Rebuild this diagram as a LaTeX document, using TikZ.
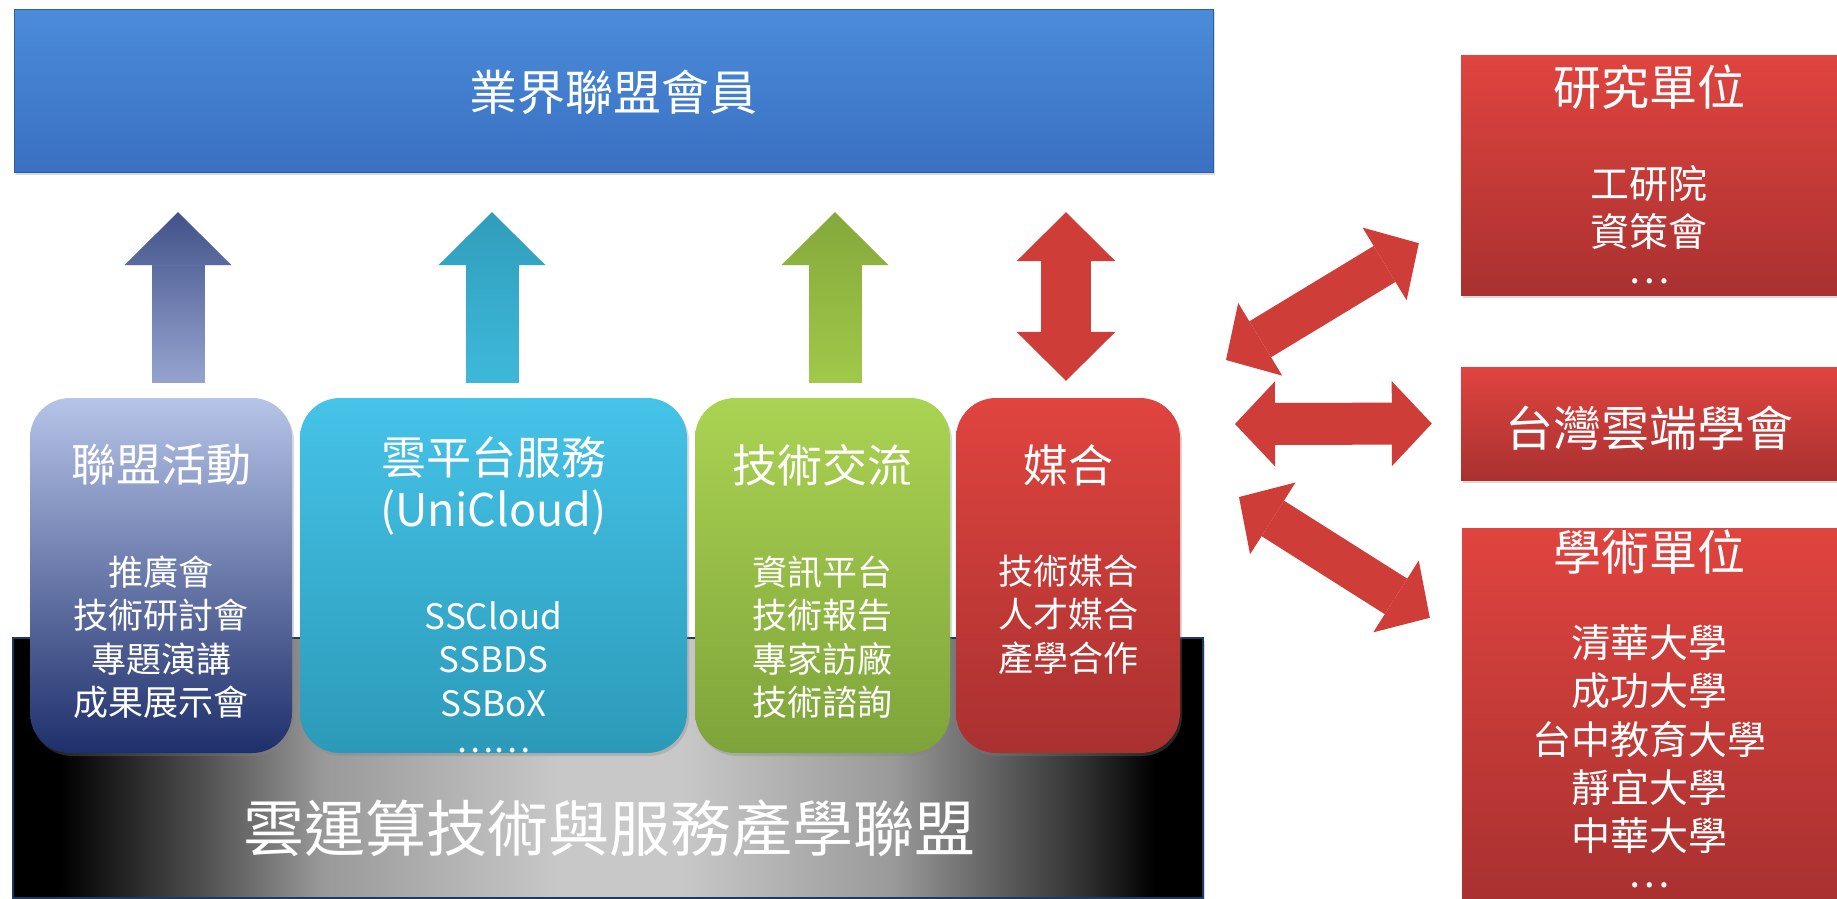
\documentclass[tikz,border=0pt]{standalone}
\usepackage{fontspec}
\setmainfont{Noto Sans CJK TC}
\usetikzlibrary{arrows.meta,shadows,fadings}
\definecolor{barTop}{HTML}{4B8CDA}
\definecolor{barBot}{HTML}{3A70C2}
\definecolor{barEdge}{HTML}{2F5F9F}
\definecolor{baseEdge}{HTML}{1F3A60}
\definecolor{glowIn}{HTML}{C8C8C8}
\definecolor{glowMid}{HTML}{999999}
\definecolor{glowLow}{HTML}{505050}
\definecolor{navyTop}{HTML}{B6C4E8}
\definecolor{navyBot}{HTML}{1E2F6B}
\definecolor{cyanTop}{HTML}{45C3E8}
\definecolor{cyanBot}{HTML}{2B9AB8}
\definecolor{limeTop}{HTML}{ABD352}
\definecolor{limeBot}{HTML}{7EA33A}
\definecolor{redTop}{HTML}{E0443F}
\definecolor{redBot}{HTML}{A93130}
\definecolor{arBlueDk}{HTML}{22336F}
\definecolor{arBlueLt}{HTML}{AAB8E0}
\definecolor{arCyanDk}{HTML}{2A93B0}
\definecolor{arCyanLt}{HTML}{42C0E2}
\definecolor{arLimeDk}{HTML}{7A9C35}
\definecolor{arLimeLt}{HTML}{A8D14E}
\definecolor{arRed}{HTML}{CF3D38}
\pgfdeclarehorizontalshading{baseglow}{100bp}{color(0bp)=(black); color(27bp)=(black); color(33bp)=(glowLow); color(38bp)=(glowMid); color(48bp)=(glowIn); color(53bp)=(glowIn); color(62bp)=(glowMid); color(70bp)=(glowLow!60!black); color(73bp)=(black); color(100bp)=(black)}
\tikzstyle{every node}=[inner sep=0pt,text=white]
\tikzstyle{panel}=[rectangle,drop shadow={opacity=0.3,shadow xshift=2pt,shadow yshift=-3pt}]
\tikzstyle{card}=[panel,rounded corners=40pt,minimum height=355pt]
\tikzstyle{head}=[font=\fontsize{45}{52}\selectfont,align=center]
\tikzstyle{item}=[font=\fontsize{35}{43.5}\selectfont,align=center]
\tikzstyle{bighead}=[font=\fontsize{48}{56}\selectfont,align=center]
\tikzstyle{subitem}=[font=\fontsize{39}{48.4}\selectfont,align=center]
\tikzstyle{uparrow}=[line width=53pt,-{Triangle[length=53pt 0 0,width=107pt 0 0,line width=0pt 0 0]}]
\tikzstyle{vdouble}=[line width=50pt,{Triangle[length=49pt 0 0,width=99pt 0 0,line width=0pt 0 0]}-{Triangle[length=49pt 0 0,width=99pt 0 0,line width=0pt 0 0]}]
\tikzstyle{sidearrow}=[line width=42pt,arRed,{Triangle[length=40pt 0 0,width=85pt 0 0,line width=0pt 0 0]}-{Triangle[length=40pt 0 0,width=85pt 0 0,line width=0pt 0 0]}]
\begin{document}
\begin{tikzpicture}[x=1pt,y=-1pt]
\useasboundingbox (0,0) rectangle (1837,898);
\node[panel,minimum width=1190pt,minimum height=260pt,draw=baseEdge,line width=2pt,shading=baseglow] (Base) at (608,768) {};
\node[font=\fontsize{61}{70}\selectfont] (BaseT) at (609,828) {雲運算技術與服務產學聯盟};
\node[panel,minimum width=1199pt,minimum height=163pt,top color=barTop,bottom color=barBot,draw=barEdge] (Top) at (613.5,90.5) {};
\node[bighead] (TopT) at (613,92) {業界聯盟會員};

% four service cards
\node[card,minimum width=262pt,top color=navyTop,bottom color=navyBot] (B1) at (161,575.5) {};
\node[card,minimum width=387pt,top color=cyanTop,bottom color=cyanBot] (B2) at (493.5,575.5) {};
\node[card,minimum width=255pt,top color=limeTop,bottom color=limeBot] (B3) at (822.5,575.5) {};
\node[card,minimum width=224pt,top color=redTop,bottom color=redBot] (B4) at (1068,575.5) {};
\node[head] (T1) at (161,465) {聯盟活動};
\node[item] (L1) at (161,637) {推廣會\\技術研討會\\專題演講\\成果展示會};
\node[head] (T2) at (493.5,486) {雲平台服務\\(UniCloud)};
\node[item] (L2) at (493.5,680.5) {SSCloud\\SSBDS\\SSBoX\\\raisebox{.2em}{……}};
\node[head] (T3) at (822.5,465) {技術交流};
\node[item] (L3) at (822.5,637) {資訊平台\\技術報告\\專家訪廠\\技術諮詢};
\node[head] (T4) at (1068,465) {媒合};
\node[item] (L4) at (1068,614.5) {技術媒合\\人才媒合\\產學合作};

% partner boxes
\node[panel,minimum width=376pt,minimum height=240pt,top color=redTop,bottom color=redBot] (R1) at (1649,175) {};
\node[panel,minimum width=376pt,minimum height=113pt,top color=redTop,bottom color=redBot] (R2) at (1649,423.5) {};
\node[panel,minimum width=375pt,minimum height=370pt,top color=redTop,bottom color=redBot] (R3) at (1649.5,713) {};
\node[bighead] (RT1) at (1649,87) {研究單位};
\node[subitem] (RL1) at (1649,230) {工研院\\資策會\\\raisebox{.3em}{…}};
\node[bighead] (RT2) at (1649,428) {台灣雲端學會};
\node[bighead] (RT3) at (1649,552) {學術單位};
\node[subitem] (RL3) at (1649,762) {清華大學\\成功大學\\台中教育大學\\靜宜大學\\中華大學\\\raisebox{.3em}{…}};

\coordinate (A1) at ([xshift=17pt]B1.north);
\coordinate (A2) at ([xshift=-1.5pt]B2.north);
\coordinate (A3) at ([xshift=12.5pt]B3.north);
\coordinate (A4) at ([xshift=-2pt]B4.north);
\path[uparrow,arBlueDk] (A1) edge[shorten <=15pt,shorten >=40pt,postaction={draw,arBlueLt,path fading=north}] (A1 |- Top.south);
\path[uparrow,arCyanDk] (A2) edge[shorten <=15pt,shorten >=40pt,postaction={draw,arCyanLt,path fading=north}] (A2 |- Top.south);
\path[uparrow,arLimeDk] (A3) edge[shorten <=15pt,shorten >=40pt,postaction={draw,arLimeLt,path fading=north}] (A3 |- Top.south);
\path[vdouble,arRed] (A4) edge[shorten <=17pt,shorten >=40pt] (A4 |- Top.south);

\coordinate (S1) at (1226,360);
\coordinate (S2) at (1235,424);
\coordinate (S3) at (1239,497);
\path[sidearrow] (S1) edge ([shift={(-42pt,52pt)}]R1.south west)
  (S2) edge[shorten >=29pt] (R2.west)
  (S3) edge ([shift={(-32pt,-90pt)}]R3.north west);
\end{tikzpicture}
\end{document}
